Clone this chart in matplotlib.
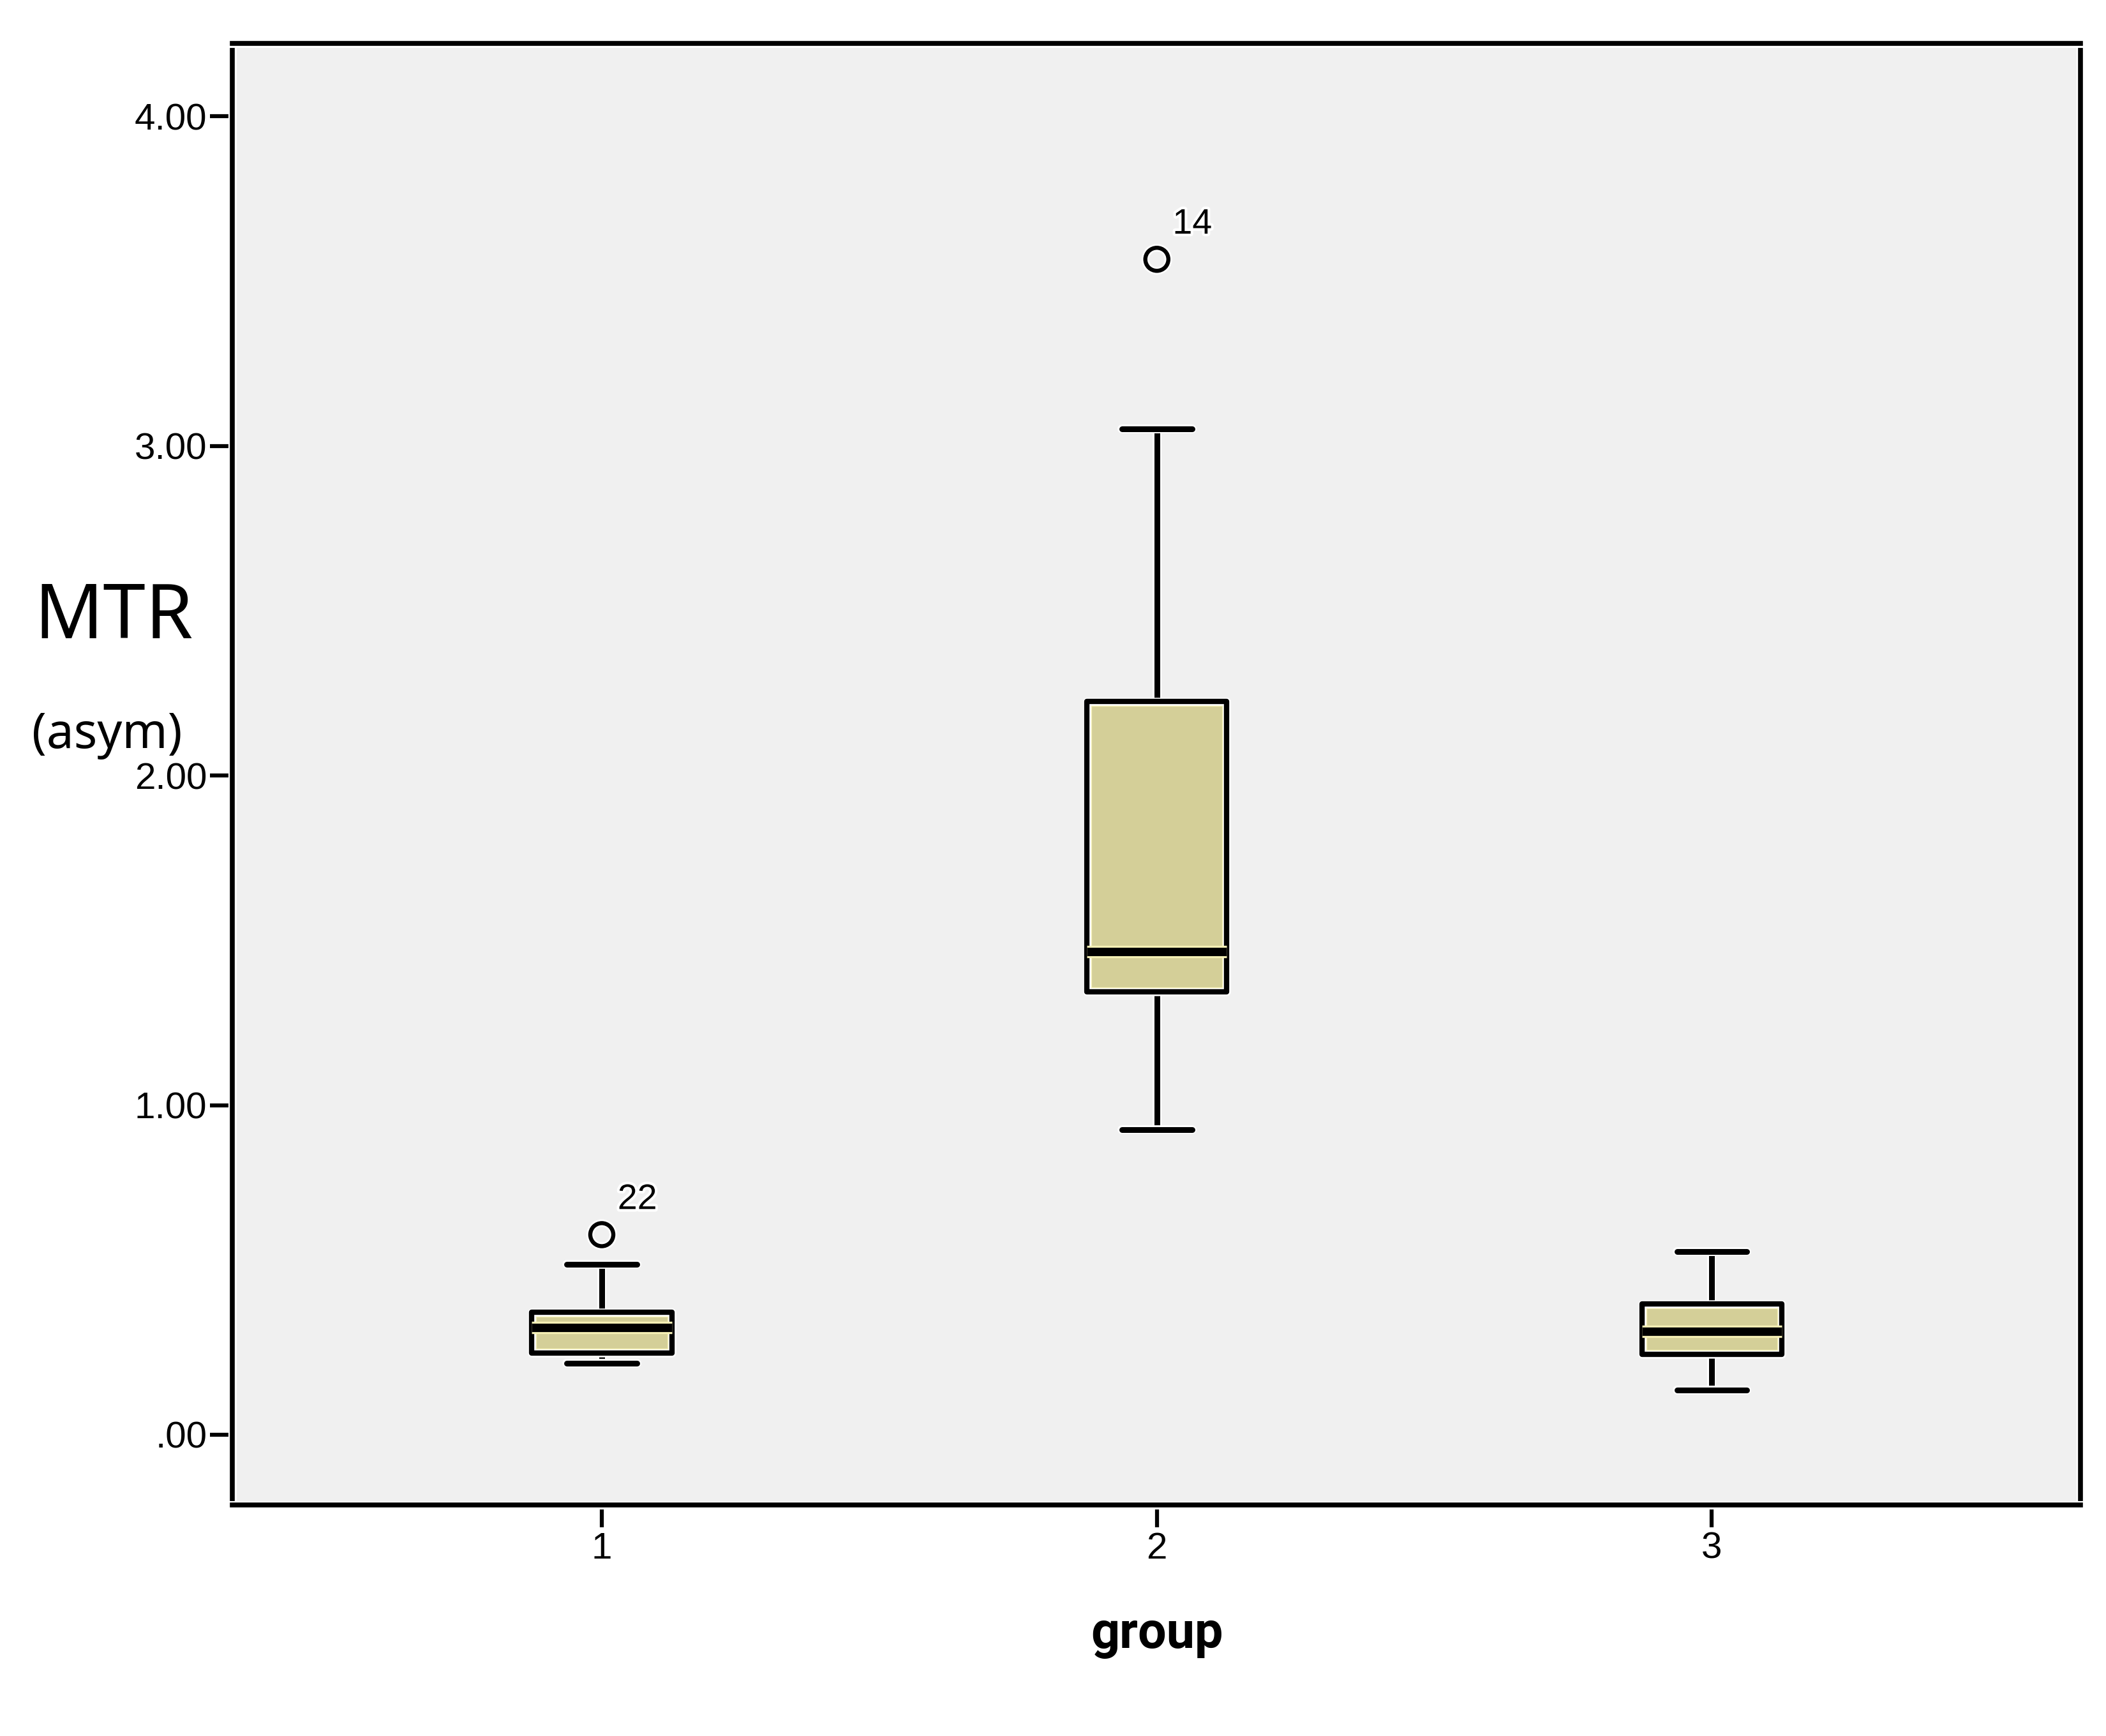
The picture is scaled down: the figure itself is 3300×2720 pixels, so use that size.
import matplotlib
matplotlib.use("Agg")
import matplotlib.pyplot as plt
import matplotlib.patheffects as pe
from matplotlib.patches import PathPatch

# values
groups = [1, 2, 3]
whislo = [0.216, 0.926, 0.136]
q1 = [0.248, 1.343, 0.244]
med = [0.325, 1.465, 0.314]
q3 = [0.371, 2.225, 0.397]
whishi = [0.516, 3.052, 0.555]
outliers = [[0.607], [3.566], []]
outlier_ids = [["22"], ["14"], []]

yticks = [0, 1, 2, 3, 4]
ytick_labels = [".00", "1.00", "2.00", "3.00", "4.00"]

box_fill = "#D4CF98"
box_light = "#F6F1B6"
bg = "#F0F0F0"

stats = []
for i in range(len(groups)):
    stats.append(dict(label=str(groups[i]), whislo=whislo[i], q1=q1[i], med=med[i],
                      q3=q3[i], whishi=whishi[i], fliers=outliers[i]))

fig = plt.figure(figsize=(33, 27.2), dpi=100)
ax = fig.add_axes([0.1103, 0.13309, 0.87758, 0.84191])
ax.set_facecolor(bg)

halo = lambda w: [pe.Stroke(linewidth=w, foreground="white"), pe.Normal()]

bp = ax.bxp(stats, positions=groups, widths=0.252, capwidths=0.126, patch_artist=True,
            boxprops=dict(facecolor=box_fill, edgecolor="none", linewidth=0, zorder=2),
            whiskerprops=dict(color="black", linewidth=6.5, zorder=1.5),
            capprops=dict(color="black", linewidth=6.5, solid_capstyle="round", zorder=1.5),
            medianprops=dict(color="black", linewidth=9.5, solid_capstyle="butt", zorder=4),
            flierprops=dict(marker="o", markersize=26, markerfacecolor="none",
                            markeredgecolor="black", markeredgewidth=4.6))

for l in bp["whiskers"] + bp["caps"]:
    l.set_path_effects(halo(10))
for l in bp["fliers"]:
    l.set_path_effects(halo(8.5))
for l in bp["medians"]:
    l.set_path_effects([pe.Stroke(linewidth=14, foreground=box_light, capstyle="butt"), pe.Normal()])

# light inner rim + black outline like SPSS draws it
for b in bp["boxes"]:
    rim = PathPatch(b.get_path(), transform=b.get_transform(), facecolor="none",
                    edgecolor=box_light, linewidth=11, zorder=3)
    ax.add_patch(rim)
    rim.set_clip_path(b)
    edge = PathPatch(b.get_path(), transform=b.get_transform(), facecolor="none",
                     edgecolor="black", linewidth=6, zorder=3.5, joinstyle="round")
    edge.set_path_effects(halo(9))
    ax.add_patch(edge)

for i in range(len(groups)):
    for v, t in zip(outliers[i], outlier_ids[i]):
        ax.annotate(t, (groups[i], v), xytext=(40, 39), textcoords="offset points",
                    ha="center", va="center", fontsize=40, family="Liberation Sans",
                    path_effects=halo(6))

ax.set_xlim(0.3343, 3.664)
ax.set_ylim(-0.213, 4.221)
ax.set_yticks(yticks)
ax.set_yticklabels(ytick_labels)
ax.set_xticks(groups)
ax.set_xticklabels([str(g) for g in groups])
ax.tick_params(axis="both", direction="out", length=25, width=4.5, labelsize=42)
ax.tick_params(axis="y", pad=3.6)
ax.tick_params(axis="x", pad=5)
for lab in ax.get_xticklabels() + ax.get_yticklabels():
    lab.set_family("Liberation Sans")

for s in ax.spines.values():
    s.set_linewidth(5.5)
    s.set_path_effects(halo(9.5))

fig.text(0.0539, 0.6324, "MTR", fontsize=86, family="Noto Sans", ha="center", va="baseline")
fig.text(0.0509, 0.5691, "(asym)", fontsize=55, family="Noto Sans", ha="center", va="baseline")
fig.text(0.5494, 0.0507, "group", fontsize=57, family="Roboto", fontweight="bold",
         ha="center", va="baseline")

fig.savefig("out.png", dpi=100, facecolor="white")
